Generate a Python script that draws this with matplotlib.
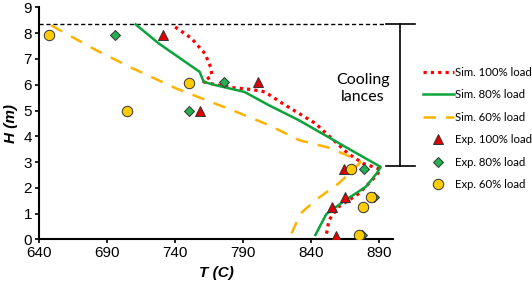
import matplotlib
matplotlib.use("Agg")
import matplotlib.pyplot as plt

# Simulation curves (T in C, H in m)
sim100_T = [740, 752, 762, 766, 767, 761, 770, 782, 797, 806, 819, 843, 859, 867, 878, 891, 887, 875, 860, 853, 851]
sim100_H = [8.24, 7.8, 7.2, 6.69, 6.37, 6.11, 6.0, 5.89, 5.81, 5.72, 5.27, 4.50, 3.72, 3.33, 2.95, 2.71, 2.43, 1.78, 1.26, 0.75, 0.17]
sim80_T = [711, 728, 758, 761, 770, 791, 809, 831, 865, 891, 888, 880, 865, 851, 843]
sim80_H = [8.34, 7.6, 6.5, 6.11, 5.98, 5.72, 5.2, 4.62, 3.59, 2.81, 2.56, 2.04, 1.52, 0.98, 0.17]
sim60_T = [649, 682, 709, 741, 782, 809, 831, 855, 860, 875, 876, 872, 860, 843, 832, 825]
sim60_H = [8.3, 7.34, 6.63, 5.85, 5.01, 4.43, 3.85, 3.53, 3.40, 3.07, 3.0, 2.75, 2.17, 1.52, 1.0, 0.17]

# Experimental points
exp100_T = [731, 801, 758, 864, 865, 855, 858]
exp100_H = [7.93, 6.1, 4.97, 2.75, 1.63, 1.26, 0.15]
exp80_T = [696, 776, 750, 879, 886, 877]
exp80_H = [7.93, 6.1, 4.97, 2.75, 1.63, 0.17]
exp60_T = [647, 750, 705, 869, 884, 878, 875]
exp60_H = [7.93, 6.08, 4.97, 2.74, 1.63, 1.26, 0.17]

lance_top = 8.35
lance_bottom = 2.84

x_ticks = [640, 690, 740, 790, 840, 890]
y_ticks = list(range(0, 10))

fig = plt.figure(figsize=(5.32, 2.85), dpi=100)
ax = fig.add_axes([0.0733, 0.160, 0.6654, 0.814])

RED = "#FF0000"
GREEN = "#0AA33C"
YEL = "#FFB300"

ax.plot(sim100_T, sim100_H, color=RED, lw=2.3, linestyle=(0, (1, 1.3)),
        label="Sim. 100% load", zorder=3)
ax.plot(sim80_T, sim80_H, color=GREEN, lw=1.8, label="Sim. 80% load", zorder=3)
ax.plot(sim60_T, sim60_H, color=YEL, lw=1.8, linestyle=(0, (5, 4)), label="Sim. 60% load", zorder=3)

ax.plot(exp100_T, exp100_H, linestyle="none", marker="^", ms=6.5, mfc="#E00000", mec="#333333",
        mew=0.7, label="Exp. 100% load", zorder=5)
ax.plot(exp80_T, exp80_H, linestyle="none", marker="D", ms=5, mfc="#22B050", mec="#333333",
        mew=0.7, label="Exp. 80% load", zorder=4)
ax.plot(exp60_T, exp60_H, linestyle="none", marker="o", ms=7.5, mfc="#FFCC00", mec="#333333",
        mew=0.7, label="Exp. 60% load", zorder=6)

# Cooling lances bracket
ax.plot([640, 895], [lance_top, lance_top], color="black", lw=1, linestyle=(0, (3, 2)), clip_on=False, zorder=2)
ax.plot([895, 916], [lance_top, lance_top], color="black", lw=1.2, clip_on=False)
ax.plot([905, 905], [lance_top, lance_bottom], color="black", lw=1.2, clip_on=False)
ax.plot([895, 916], [lance_bottom, lance_bottom], color="black", lw=1.2, clip_on=False)
ax.text(878, 5.85, "Cooling\nlances", ha="center", va="center", fontsize=11.5, family="Lato",
        linespacing=1.3)

ax.set_xlim(640, 900)
ax.set_ylim(0, 9)
ax.set_xticks(x_ticks)
ax.set_yticks(y_ticks)
for s in ["top", "right"]:
    ax.spines[s].set_visible(False)
for s in ["left", "bottom"]:
    ax.spines[s].set_linewidth(1.5)
ax.tick_params(labelsize=11, width=1.2, length=3, pad=2)
for lab in ax.get_xticklabels() + ax.get_yticklabels():
    lab.set_family("Liberation Sans")
ax.set_xlabel("T (C)", fontsize=11, fontweight="bold", style="italic", family="Liberation Sans", labelpad=4)
ax.set_ylabel("H (m)", fontsize=11, fontweight="bold", style="italic", family="Liberation Sans", labelpad=4)

h, l = ax.get_legend_handles_labels()
fig.legend(h, l, loc="upper left", bbox_to_anchor=(0.795, 0.765), frameon=False,
           prop={"family": "Lato", "size": 8.2}, handlelength=2.7, handletextpad=0.15,
           labelspacing=1.0, borderaxespad=0, borderpad=0)

fig.savefig("out.png", dpi=100)
